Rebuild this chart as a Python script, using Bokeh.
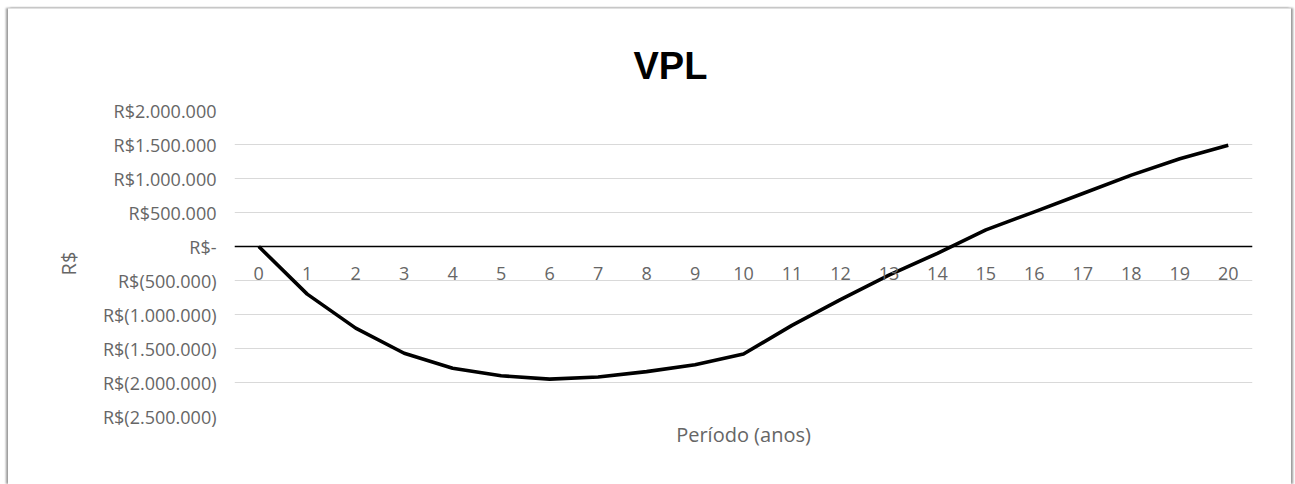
from bokeh.plotting import figure
from bokeh.models import FactorRange, Range1d, FixedTicker, LinearAxis
from bokeh.embed import file_html
from bokeh.resources import INLINE

# ---- data ----
periods = [str(i) for i in range(21)]
vpl = [0, -700000, -1200000, -1570000, -1790000, -1900000, -1950000, -1920000,
       -1840000, -1740000, -1580000, -1160000, -780000, -420000, -100000,
       245000, 510000, 780000, 1050000, 1290000, 1490000]
y_ticks = [-2500000, -2000000, -1500000, -1000000, -500000, 0,
           500000, 1000000, 1500000, 2000000]
y_tick_labels = ["R$(2.500.000)", "R$(2.000.000)", "R$(1.500.000)", "R$(1.000.000)",
                 "R$(500.000)", "R$-", "R$500.000", "R$1.000.000",
                 "R$1.500.000", "R$2.000.000"]
title_text = "VPL"
x_title = "Período (anos)"
y_title = "R$"

FONT = "Open Sans"
GREY = "#666666"

p = figure(width=1283, height=476, x_range=FactorRange(factors=periods),
           y_range=Range1d(y_ticks[0], y_ticks[-1]),
           output_backend="svg", toolbar_location=None,
           min_border_left=226, min_border_right=39,
           min_border_top=101, min_border_bottom=69)
p.styles = {"margin": "8px 0px 0px 8px",
            "border-top": "1px solid #e0e0e0",
            "box-shadow": "-2px 0px 2px #9a9a9a, 2px 0px 2px #9a9a9a"}
p.outline_line_color = None
p.background_fill_color = "white"
p.border_fill_color = "white"

# title
p.title.text = title_text
p.title.align = "left"
p.title.offset = 399
p.title.text_font = "Liberation Sans"
p.title.text_font_style = "bold"
p.title.text_font_size = "38px"
p.title.text_color = "#000000"
p.title.standoff = 48

# y axis
yax = p.yaxis[0]
yax.ticker = FixedTicker(ticks=y_ticks)
yax.major_label_overrides = {t: l for t, l in zip(y_ticks, y_tick_labels)}
yax.axis_line_color = None
yax.major_tick_line_color = None
yax.minor_tick_line_color = None
yax.major_label_standoff = 12
yax.major_label_text_font = FONT
yax.major_label_text_font_size = "18px"
yax.major_label_text_color = GREY
yax.axis_label = y_title
yax.axis_label_text_font = FONT
yax.axis_label_text_font_size = "20px"
yax.axis_label_text_font_style = "normal"
yax.axis_label_text_color = GREY
yax.axis_label_standoff = 18

p.ygrid.ticker = FixedTicker(ticks=y_ticks)
p.ygrid.grid_line_color = "#d9d9d9"
p.ygrid.grid_line_width = 1
p.xgrid.grid_line_color = None

# x axis crossing at zero
xax = p.xaxis[0]
xax.fixed_location = 0
xax.axis_line_color = "#000000"
xax.axis_line_width = 1.5
xax.major_tick_line_color = None
xax.minor_tick_line_color = None
xax.major_label_standoff = 14
xax.major_label_text_font = FONT
xax.major_label_text_font_size = "18px"
xax.major_label_text_color = GREY

# separate axis that only carries the x title below the plot
xt = LinearAxis(ticker=FixedTicker(ticks=[]), axis_line_color=None,
                major_tick_line_color=None, minor_tick_line_color=None,
                axis_label=x_title, axis_label_text_font=FONT,
                axis_label_text_font_size="20px", axis_label_text_font_style="normal",
                axis_label_text_color=GREY, axis_label_standoff=4,
                major_label_text_font_size="0px")
p.add_layout(xt, "below")

p.line(x=periods, y=vpl, line_color="#000000", line_width=3.6, line_join="round")

open("out.html", "w").write(file_html(p, INLINE))
